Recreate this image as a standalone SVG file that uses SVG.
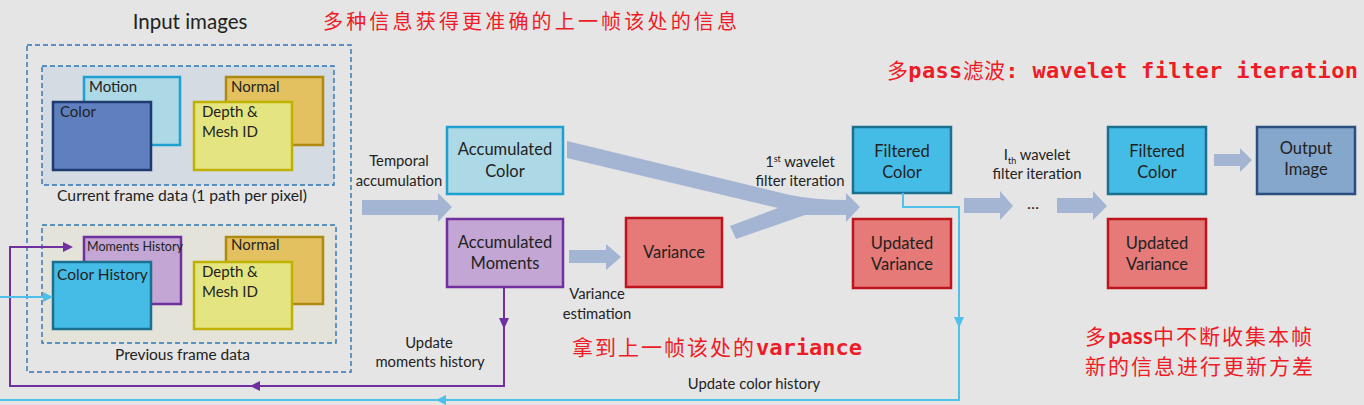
<svg xmlns="http://www.w3.org/2000/svg" width="1364" height="405" viewBox="0 0 1364 405">
<defs>
<style>
.t{font-family:Lato,"Open Sans","Liberation Sans",sans-serif;fill:#222;}
.bx{font-size:16.5px;text-anchor:middle;}
.sm{font-size:14.8px;text-anchor:middle;}
.in{font-size:15px;}
.dash{fill:none;stroke:#2e75b6;stroke-width:1.4;stroke-dasharray:5 3;}
.fat{fill:#a4b5d4;}
.red{fill:#ee1c25;font-family:"Noto Sans CJK SC",sans-serif;}
.mono{font-family:"DejaVu Sans Mono","Liberation Mono",monospace;font-weight:bold;}
.cyan{fill:#add8e6;stroke:#1ea0d2;stroke-width:2.5;}
.blue{fill:#45bce6;stroke:#1b6f8f;stroke-width:2.5;}
.purp{fill:#c3a6d3;stroke:#7030a0;stroke-width:2.5;}
.var{fill:#e57a78;stroke:#c0141c;stroke-width:2.5;}
.yel{fill:#e4e480;stroke:#c0b000;stroke-width:2.5;}
.org{fill:#e3c060;stroke:#b08a10;stroke-width:2.5;}
</style>
</defs>
<rect width="1364" height="405" fill="#e5e5e5"/>

<g id="input-images">
<text class="t" x="190" y="29" font-size="20.5" text-anchor="middle">Input images</text>
<rect class="dash" x="27" y="45" width="324" height="327"/>
</g>

<g id="current-frame">
<rect class="dash" x="42" y="66" width="292" height="119" style="fill:#d5dbe3"/>
<rect class="cyan" x="84" y="77" width="96" height="68"/>
<text class="t in" x="89" y="92">Motion</text>
<rect x="53" y="102" width="98" height="68" fill="#5f7fbf" stroke="#1f3a70" stroke-width="2.5"/>
<text class="t in" x="60" y="117">Color</text>
<rect class="org" x="226" y="77" width="97" height="68"/>
<text class="t in" x="231" y="92">Normal</text>
<rect class="yel" x="194" y="102" width="98" height="68"/>
<text class="t in" x="202" y="117">Depth &amp;</text>
<text class="t in" x="202" y="137">Mesh ID</text>
<text class="t" x="57" y="201" font-size="15" textLength="250" lengthAdjust="spacingAndGlyphs">Current frame data (1 path per pixel)</text>
</g>

<g id="previous-frame">
<rect class="dash" x="42" y="225" width="294" height="118" style="fill:#e3e3da"/>
<rect class="purp" x="84" y="237" width="97" height="67"/>
<text class="t" x="87" y="251" font-size="12.5" textLength="96">Moments History</text>
<rect class="blue" x="53" y="262" width="98" height="67"/>
<text class="t" x="57" y="280" font-size="15.5">Color History</text>
<rect class="org" x="226" y="237" width="97" height="67"/>
<text class="t in" x="231" y="250">Normal</text>
<rect class="yel" x="194" y="262" width="98" height="67"/>
<text class="t in" x="202" y="277">Depth &amp;</text>
<text class="t in" x="202" y="297">Mesh ID</text>
<text class="t" x="115" y="360" font-size="15.5" textLength="135">Previous frame data</text>
</g>

<g id="acc-color">
<rect class="cyan" x="447" y="127" width="116" height="67"/>
<text class="t bx" x="505" y="155">Accumulated</text>
<text class="t bx" x="505" y="177">Color</text>
</g>
<g id="acc-moments">
<rect class="purp" x="447" y="219" width="116" height="68"/>
<text class="t bx" x="505" y="248">Accumulated</text>
<text class="t bx" x="505" y="269">Moments</text>
</g>
<g id="variance">
<rect class="var" x="626" y="218" width="96" height="69"/>
<text class="t bx" x="674" y="258">Variance</text>
</g>
<g id="filtered-1">
<rect class="blue" x="853" y="127" width="98" height="66"/>
<text class="t bx" x="902" y="157">Filtered</text>
<text class="t bx" x="902" y="178">Color</text>
</g>
<g id="updvar-1">
<rect class="var" x="853" y="219" width="98" height="69"/>
<text class="t bx" x="902" y="249">Updated</text>
<text class="t bx" x="902" y="270">Variance</text>
</g>
<g id="filtered-2">
<rect class="blue" x="1108" y="127" width="98" height="67"/>
<text class="t bx" x="1157" y="157">Filtered</text>
<text class="t bx" x="1157" y="178">Color</text>
</g>
<g id="updvar-2">
<rect class="var" x="1108" y="219" width="98" height="69"/>
<text class="t bx" x="1157" y="249">Updated</text>
<text class="t bx" x="1157" y="270">Variance</text>
</g>
<g id="output">
<rect x="1257" y="127" width="98" height="67" fill="#85a7cc" stroke="#2a4f7f" stroke-width="2.5"/>
<text class="t bx" x="1306" y="154">Output</text>
<text class="t bx" x="1306" y="175">Image</text>
</g>

<g id="connectors">
<polygon class="fat" points="362,200 438,200 438,193 452,207 438,222 438,215 362,215"/>
<polygon class="fat" points="569,250 606,250 606,244 621,257 606,270 606,263 569,263"/>
<path class="fat" d="M567,141 L790,195 Q815,200 846,200 L846,193 L860,207 L846,222 L846,215 L805,215 L736,239 L730,226 L778,208 L567,158 Z"/>
<polygon class="fat" points="964,198 1000,198 1000,191 1013,206 1000,220 1000,213 964,213"/>
<polygon class="fat" points="1057,198 1093,198 1093,191 1107,206 1093,220 1093,213 1057,213"/>
<polygon class="fat" points="1214,154 1240,154 1240,148 1252,160 1240,172 1240,166 1214,166"/>
<path d="M504,287 V386 H10 V247 H66" fill="none" stroke="#7030a0" stroke-width="2"/>
<polygon points="499,318 509,318 504,329" fill="#7030a0"/>
<polygon points="73,247 63,242 63,252" fill="#7030a0"/>
<polygon points="250,386 260,381 260,391" fill="#7030a0"/>
<path d="M903,193 V207 H959 V400 H0" fill="none" stroke="#4fc0ea" stroke-width="2"/>
<polygon points="954,317 964,317 959,328" fill="#4fc0ea"/>
<polygon points="436,400 446,395 446,405" fill="#4fc0ea"/>
<path d="M0,297 H46" fill="none" stroke="#4fc0ea" stroke-width="2"/>
<polygon points="53,297 43,292 43,302" fill="#4fc0ea"/>
<text class="t sm" x="399" y="166">Temporal</text>
<text class="t sm" x="399" y="186">accumulation</text>
<text class="t sm" x="800" y="167">1<tspan font-size="9" dy="-5">st</tspan><tspan dy="5"> wavelet</tspan></text>
<text class="t sm" x="800" y="186">filter iteration</text>
<text class="t sm" x="1037" y="160">I<tspan font-size="9" dy="4">th</tspan><tspan dy="-4"> wavelet</tspan></text>
<text class="t sm" x="1037" y="179">filter iteration</text>
<text class="t" x="1033" y="209" font-size="16" text-anchor="middle">…</text>
<text class="t sm" x="597" y="299">Variance</text>
<text class="t sm" x="597" y="319">estimation</text>
<text class="t sm" x="429" y="348">Update</text>
<text class="t sm" x="430" y="367">moments history</text>
<text class="t sm" x="754" y="389">Update color history</text>
</g>

<g id="notes">
<text class="red" x="323" y="29" font-size="20" textLength="414" lengthAdjust="spacing">多种信息获得更准确的上一帧该处的信息</text>
<text class="red" x="887" y="78" font-size="21" textLength="471" lengthAdjust="spacing">多<tspan class="mono" font-size="22">pass</tspan>滤波<tspan class="mono" font-size="22">: wavelet filter iteration</tspan></text>
<text class="red" x="572" y="355" font-size="21" letter-spacing="2">拿到上一帧该处的<tspan class="mono" font-size="22" letter-spacing="0">variance</tspan></text>
<text class="red" x="1085" y="344" font-size="21" letter-spacing="2">多<tspan font-weight="bold" font-family="Lato,'Open Sans',sans-serif" font-size="23" letter-spacing="0">pass</tspan>中不断收集本帧</text>
<text class="red" x="1085" y="374" font-size="21" letter-spacing="2">新的信息进行更新方差</text>
</g>
</svg>
